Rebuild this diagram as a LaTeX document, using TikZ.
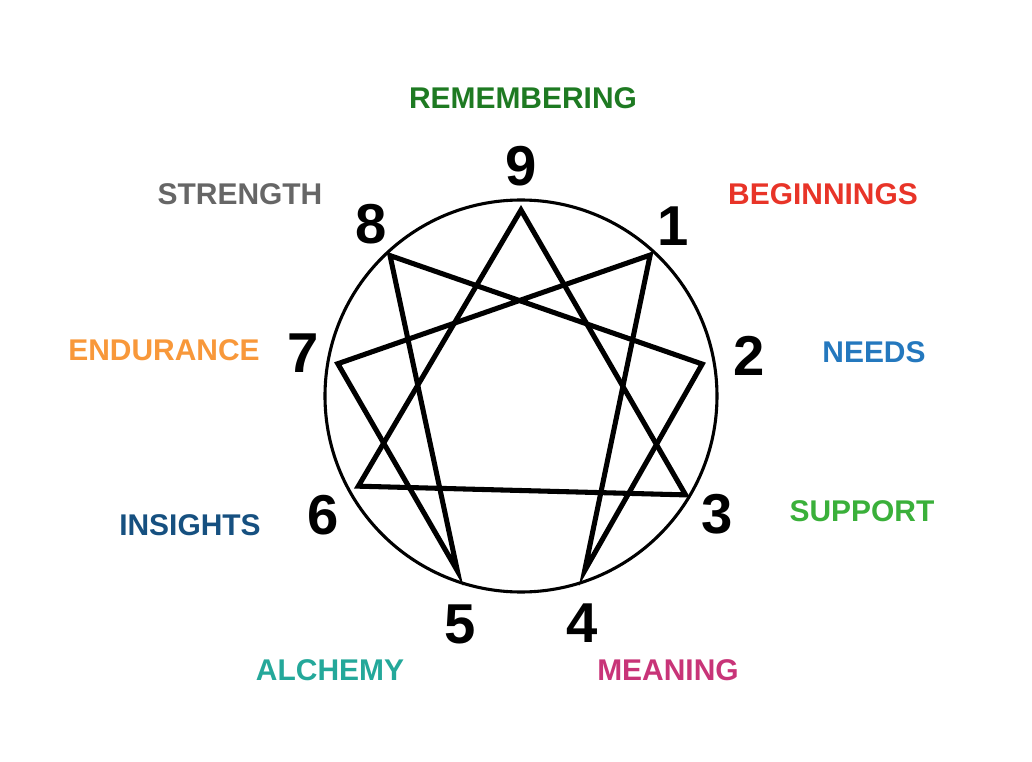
\documentclass[tikz,border=0pt]{standalone}
\usepackage{fontspec}
\setmainfont{Liberation Sans}
\usepackage{tikz}
\usetikzlibrary{positioning}
\definecolor{remgreen}{RGB}{30,122,34}
\definecolor{strgray}{RGB}{102,102,102}
\definecolor{begred}{RGB}{232,52,40}
\definecolor{needblue}{RGB}{36,120,190}
\definecolor{supgreen}{RGB}{58,176,58}
\definecolor{meanpink}{RGB}{200,52,120}
\definecolor{alcteal}{RGB}{36,168,154}
\definecolor{insblue}{RGB}{22,80,128}
\definecolor{endorange}{RGB}{248,152,58}
\tikzset{
    number/.style={font=\fontsize{40}{44}\selectfont\bfseries, text=black, inner sep=0pt},
    theme/.style={font=\fontsize{21.3}{24}\selectfont\bfseries, inner sep=0pt},
    ring/.style={line width=2.2pt, draw=black},
    star/.style={line width=3.6pt, draw=black, line join=miter, miter limit=10}
}
\begin{document}
\begin{tikzpicture}
    \useasboundingbox (-13.025,-9.15) rectangle (12.775,9.9);

    \node (ring) [ring, circle, minimum size=9.8cm, inner sep=0pt] at (0, 0) {};

    % points of the star
    \coordinate (p9) at (90:4.65);
    \coordinate (p1) at (47.5:4.78);
    \coordinate (p2) at (10:4.6);
    \coordinate (p3) at (-31:4.8);
    \coordinate (p4) at (-70:4.65);
    \coordinate (p5) at (-110:4.65);
    \coordinate (p6) at (-151:4.65);
    \coordinate (p7) at (170:4.65);
    \coordinate (p8) at (133:4.8);

    \draw [star] (p9) -- (p3) -- (p6) -- cycle;
    \draw [star] (p1) -- (p4) -- (p2) -- (p8) -- (p5) -- (p7) -- cycle;

    % numbers
    \node (n9) [number] at (90:5.75) {9};
    \node (n1) [number] at (48:5.7) {1};
    \node (n2) [number] at (10:5.78) {2};
    \node (n3) [number] at (-31:5.72) {3};
    \node (n4) [number] at (-75:5.88) {4};
    \node (n5) [number] at (-105:5.9) {5};
    \node (n6) [number] at (-149:5.78) {6};
    \node (n7) [number] at (169:5.55) {7};
    \node (n8) [number] at (131:5.7) {8};

    % themes
    \node (remembering) [theme, text=remgreen] at (0.05, 7.45) {REMEMBERING};
    \node (beginnings) [theme, text=begred] at (7.55, 5.05) {BEGINNINGS};
    \node (needs) [theme, text=needblue] at (8.825, 1.1) {NEEDS};
    \node (support) [theme, text=supgreen] at (8.525, -2.875) {SUPPORT};
    \node (meaning) [theme, text=meanpink] at (3.675, -6.85) {MEANING};
    \node (alchemy) [theme, text=alcteal] at (-4.775, -6.85) {ALCHEMY};
    \node (insights) [theme, text=insblue] at (-8.275, -3.225) {INSIGHTS};
    \node (endurance) [theme, text=endorange] at (-8.925, 1.15) {ENDURANCE};
    \node (strength) [theme, text=strgray] at (-7.025, 5.05) {STRENGTH};
\end{tikzpicture}
\end{document}
